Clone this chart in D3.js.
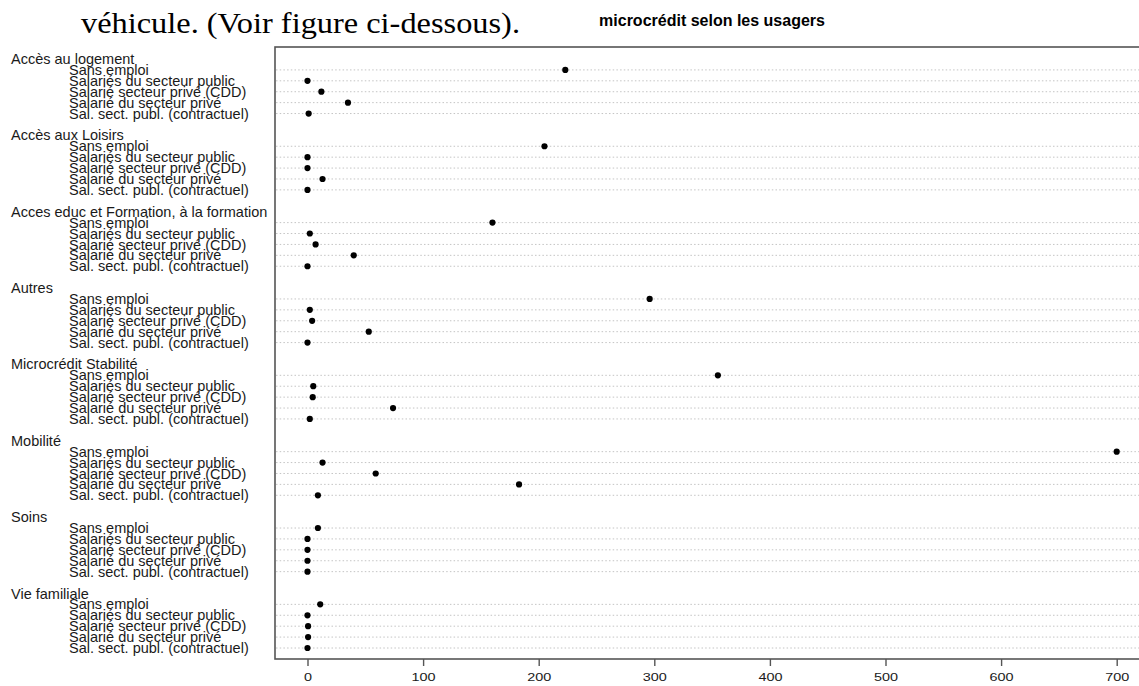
<!DOCTYPE html>
<html><head><meta charset="utf-8">
<script src="https://cdn.jsdelivr.net/npm/d3@7"></script>
<style>
body{margin:0;background:#fff;}
svg{display:block;}
</style></head>
<body>
<svg id="chart" width="1139" height="686"></svg>
<script>
const groups = ["Accès au logement","Accès aux Loisirs","Acces educ et Formation, à la formation","Autres","Microcrédit Stabilité","Mobilité","Soins","Vie familiale"];
const subcats = ["Sans emploi","Salariés du secteur public","Salarié secteur privé (CDD)","Salarié du secteur privé","Sal. sect. publ. (contractuel)"];
const vLogement = [223, 0, 12, 35, 1];
const vLoisirs = [205, 0, 0, 13, 0];
const vEduc = [160, 2, 7, 40, 0];
const vAutres = [296, 2, 4, 53, 0];
const vStabilite = [355, 5, 4.5, 74, 2];
const vMobilite = [700, 13, 59, 183, 9];
const vSoins = [9, 0, 0, 0, 0];
const vFamiliale = [11, 0, 0.5, 0.5, 0];
const values = [vLogement, vLoisirs, vEduc, vAutres, vStabilite, vMobilite, vSoins, vFamiliale];
const xTicks = [0,100,200,300,400,500,600,700];
const chartTitle = "microcrédit selon les usagers";
const pageText = "véhicule. (Voir figure ci-dessous).";

const svg = d3.select("#chart");
const x = d3.scaleLinear().domain([0,700]).range([307.5,1116.7]);
const y = d3.scaleLinear().domain([0,54]).range([59,648]);
const slotsPerGroup = subcats.length + 2;

// page text
svg.append("text").attr("x",81).attr("y",33)
  .attr("font-family","Liberation Serif, Times New Roman, serif")
  .attr("font-size",29).attr("fill","#000")
  .attr("textLength",439).attr("lengthAdjust","spacingAndGlyphs").text(pageText);
svg.append("text").attr("x",712).attr("y",26).attr("text-anchor","middle")
  .attr("font-family","Liberation Sans, Arial, sans-serif").attr("font-weight","bold")
  .attr("font-size",16).attr("fill","#000").text(chartTitle);

const frameTop = y(-1.1), frameBottom = 659, frameLeft = 275;

// rows
const rows = [];
groups.forEach((g,gi)=>{
  subcats.forEach((s,si)=>{
    rows.push({g:gi, s, v: values[gi][si], slot: gi*slotsPerGroup + 1 + si});
  });
});

// dotted guide lines
svg.append("g").selectAll("line").data(rows).join("line")
  .attr("x1",frameLeft+1).attr("x2",1139)
  .attr("y1",d=>y(d.slot)).attr("y2",d=>y(d.slot))
  .attr("stroke","#c4c4c4").attr("stroke-width",1).attr("stroke-dasharray","1.5,2.2");

// frame
svg.append("rect").attr("x",frameLeft).attr("y",frameTop)
  .attr("width",1200).attr("height",frameBottom-frameTop)
  .attr("fill","none").attr("stroke","#555").attr("stroke-width",1.6);

// points
svg.append("g").selectAll("circle").data(rows).join("circle")
  .attr("cx",d=>x(d.v)).attr("cy",d=>y(d.slot)).attr("r",3.1).attr("fill","#000");

// labels
const lab = svg.append("g").attr("font-family","Liberation Sans, Arial, sans-serif")
  .attr("font-size",14.5).attr("fill","#1a1a1a");
lab.selectAll("text.grp").data(groups).join("text").attr("class","grp")
  .attr("x",11).attr("y",(d,i)=>y(i*slotsPerGroup)).attr("dy","0.35em").text(d=>d);
lab.selectAll("text.sub").data(rows).join("text").attr("class","sub")
  .attr("x",69).attr("y",d=>y(d.slot)).attr("dy","0.35em").text(d=>d.s);

// x axis
const axis = d3.axisBottom(x).tickValues(xTicks).tickSize(7).tickPadding(7).tickFormat(d3.format("d"));
const ag = svg.append("g").attr("transform",`translate(0,${frameBottom})`).call(axis);
ag.select(".domain").remove();
ag.selectAll(".tick line").attr("stroke","#555").attr("stroke-width",1.4);
ag.selectAll(".tick text").attr("font-family","Liberation Sans, Arial, sans-serif")
  .attr("font-size",11.5).attr("fill","#1a1a1a")
  .attr("textLength",d=>String(d).length*8).attr("lengthAdjust","spacingAndGlyphs");
</script>
</body></html>
